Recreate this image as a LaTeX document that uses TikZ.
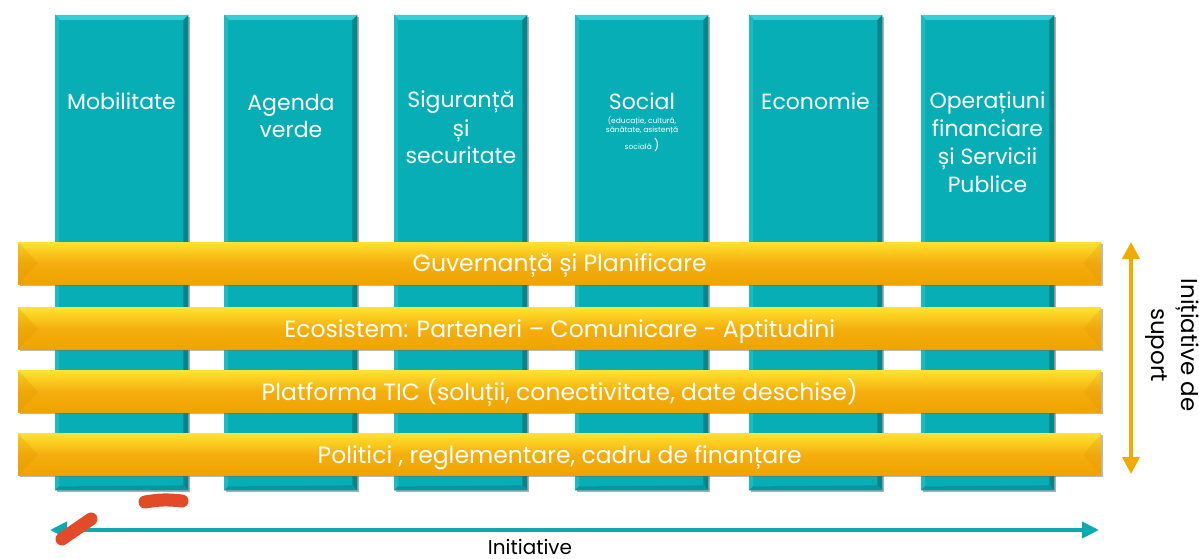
\documentclass[tikz,border=0pt]{standalone}
\usepackage{fontspec}
\setmainfont{Poppins}
\usetikzlibrary{shadows,arrows.meta}
\definecolor{colteal}{HTML}{07AEB5}
\definecolor{tealhi}{HTML}{35D0D6}
\definecolor{tealside}{HTML}{1ABCC2}
\definecolor{tealdark}{HTML}{05858B}
\definecolor{tealbot}{HTML}{06979D}
\definecolor{bartop}{HTML}{FFE22E}
\definecolor{barmid}{HTML}{F4AE0E}
\definecolor{barbot}{HTML}{EFA300}
\definecolor{barend}{HTML}{E39600}
\definecolor{arrorange}{HTML}{F2A900}
\definecolor{arrteal}{HTML}{0AAAB0}
\definecolor{redmark}{HTML}{E24A28}
\tikzset{
  col/.style={draw=none, fill=colteal, minimum width=133pt, minimum height=475pt,
    anchor=north west, inner sep=0pt,
    drop shadow={shadow xshift=1.5pt, shadow yshift=-1.5pt, opacity=0.45, fill=black!70}},
  coltext/.style={text=white, align=center, inner sep=0pt, anchor=base,
    font=\fontsize{22}{28}\selectfont},
  smalltext/.style={text=white, align=center, inner sep=0pt, anchor=north,
    font=\fontsize{7.5}{9.5}\selectfont},
  barbox/.style={draw=none, top color=bartop, bottom color=barbot, middle color=barmid,
    minimum width=1083pt, minimum height=42pt, anchor=north west, inner sep=0pt,
    drop shadow={shadow xshift=1.5pt, shadow yshift=-1.5pt, opacity=0.45, fill=black!60}},
  bartext/.style={text=white, inner sep=0pt, anchor=base, font=\fontsize{23.5}{26}\selectfont},
  sidetext/.style={text=black, align=center, inner sep=0pt, font=\fontsize{23}{30}\selectfont},
  redstroke/.style={draw=redmark, line width=13pt, line cap=round}
}
\begin{document}
\begin{tikzpicture}[x=1pt,y=-1pt]
\useasboundingbox (0,0) rectangle (1199,559);
% columns
\node[col] (c1) at (55,15) {};
\node[col] (c2) at (224,15) {};
\node[col] (c3) at (394,15) {};
\node[col] (c4) at (575,15) {};
\node[col] (c5) at (749,15) {};
\node[col] (c6) at (921,15) {};
\foreach \c in {c1,c2,c3,c4,c5,c6}{
  \fill[tealhi] (\c.north west) -- (\c.north east) -- ([xshift=-5pt,yshift=-5pt]\c.north east) -- ([xshift=5pt,yshift=-5pt]\c.north west) -- cycle;
  \fill[tealside] (\c.north west) -- ([xshift=4pt,yshift=-4pt]\c.north west) -- ([xshift=4pt,yshift=4pt]\c.south west) -- (\c.south west) -- cycle;
  \fill[tealdark] (\c.north east) -- (\c.south east) -- ([xshift=-5pt,yshift=5pt]\c.south east) -- ([xshift=-5pt,yshift=-5pt]\c.north east) -- cycle;
  \fill[tealbot] (\c.south west) -- (\c.south east) -- ([xshift=-5pt,yshift=5pt]\c.south east) -- ([xshift=4pt,yshift=4pt]\c.south west) -- cycle;
}
% column labels (base anchor = baseline of the last line)
\node[coltext] (l1) at (121.5,110) {Mobilitate};
\node[coltext] (l2) at (291,138) {Agenda\\verde};
\node[coltext] (l3) at (461,164) {Siguranță\\și\\securitate};
\node[coltext] (l4) at (642,110) {Social};
\node[smalltext] (l4s) at (642,116) {(educație, cultură,\\sănătate, asistență\\[3pt]socială {\fontsize{12}{12}\selectfont)}};
\node[coltext] (l5) at (815.5,110) {Economie};
\node[coltext] (l6) at (987.5,192) {Operațiuni\\financiare\\și Servicii\\Publice};
% bars
\node[barbox] (b1) at (18,242) {};
\node[barbox] (b2) at (18,307.5) {};
\node[barbox] (b3) at (18,370.5) {};
\node[barbox] (b4) at (18,433.5) {};
\foreach \b in {b1,b2,b3,b4}{
  \fill[barend, opacity=0.3] (\b.north west) -- ([xshift=20pt]\b.west) -- (\b.south west) -- cycle;
  \fill[barend, opacity=0.25] (\b.north east) -- ([xshift=-18pt]\b.east) -- (\b.south east) -- cycle;
}
\node[bartext] (t1) at ([yshift=-8.5pt]b1.center) {Guvernanță și Planificare};
\node[bartext] (t2) at ([yshift=-8.5pt]b2.center) {Ecosistem: Parteneri – Comunicare - Aptitudini};
\node[bartext] (t3) at ([yshift=-8.5pt]b3.center) {Platforma TIC (soluții, conectivitate, date deschise)};
\node[bartext] (t4) at ([yshift=-8.5pt]b4.center) {Politici , reglementare, cadru de finanțare};
% vertical orange arrow
\coordinate (vtop) at (1131,242);
\coordinate (vbot) at (1131,474);
\draw[arrorange, line width=4pt, {Triangle[width=17pt,length=17pt]}-{Triangle[width=17pt,length=17pt]}] (vtop) -- (vbot);
\node[sidetext, rotate=-90] (side) at (1172,345) {Inițiative de\\suport};
% horizontal teal arrow
\coordinate (hleft) at (50,530);
\coordinate (hright) at (1099,530);
\draw[arrteal, line width=4pt, {Triangle[width=16pt,length=17pt]}-{Triangle[width=16pt,length=17pt]}] (hleft) -- (hright);
\node[sidetext, anchor=base, font=\fontsize{20}{24}\selectfont] (bot) at (530,554) {Initiative};
% red marks
\coordinate (ra) at (145,502);
\coordinate (rb) at (182,501);
\draw[redstroke] (ra) to[bend left=8] (rb);
\coordinate (rc) at (62,539);
\coordinate (rd) at (91,519);
\draw[redstroke] (rc) -- (rd);
\end{tikzpicture}
\end{document}
